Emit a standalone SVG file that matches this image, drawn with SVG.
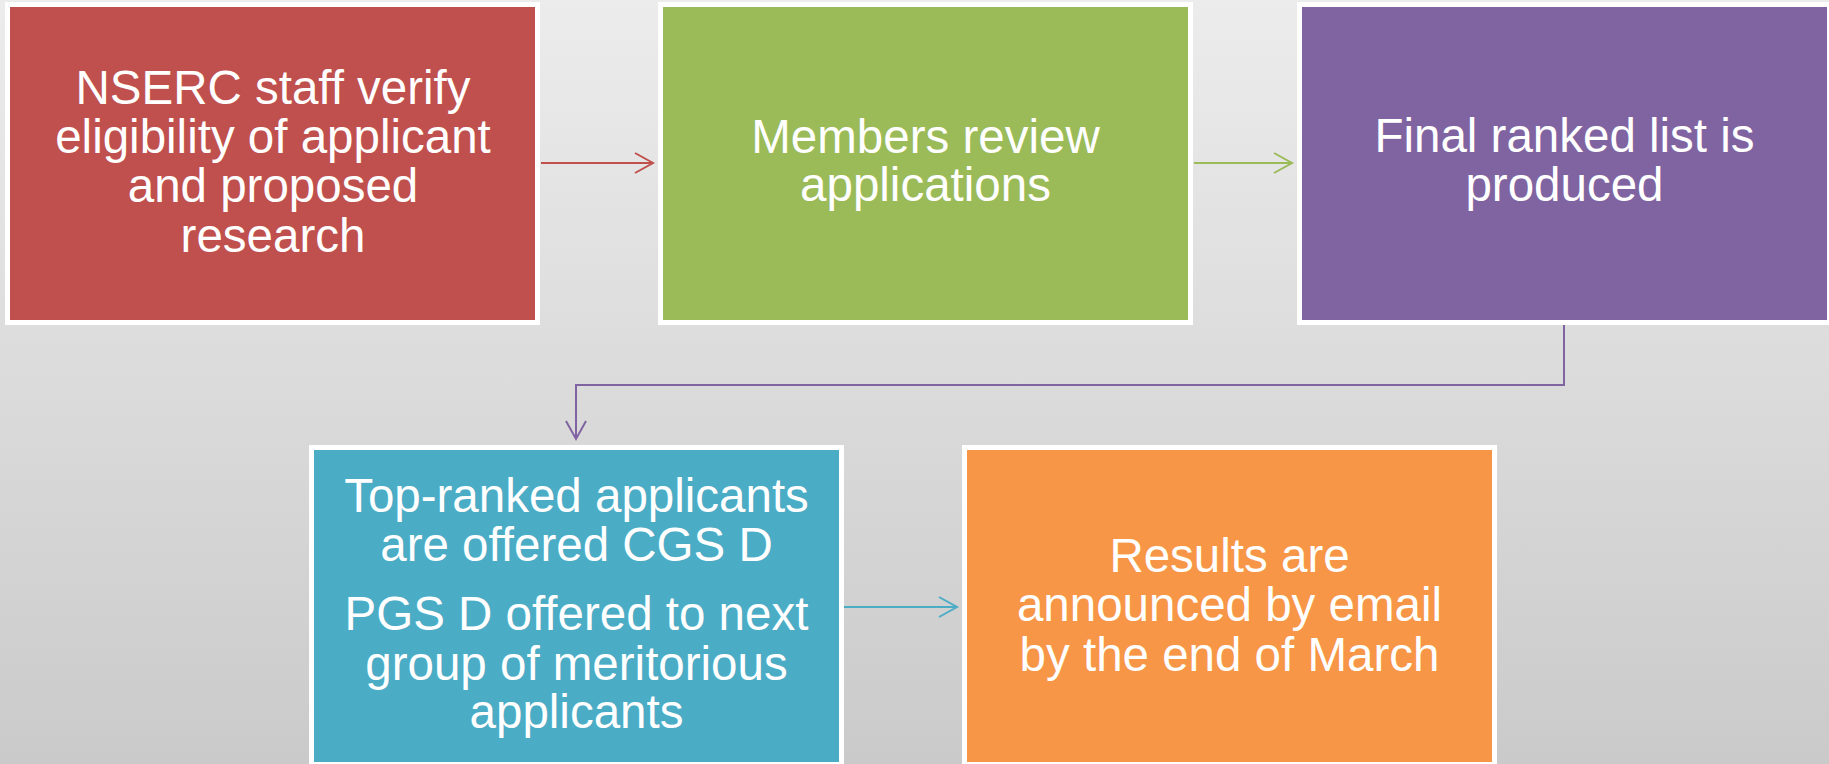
<svg xmlns="http://www.w3.org/2000/svg" width="1829" height="764" viewBox="0 0 1829 764">
  <defs>
    <linearGradient id="bg" x1="0" y1="0" x2="0" y2="1">
      <stop offset="0" stop-color="#ECECEC"/>
      <stop offset="1" stop-color="#CACACA"/>
    </linearGradient>
    <marker id="mRed" markerUnits="userSpaceOnUse" markerWidth="24" markerHeight="24" refX="20" refY="11" orient="auto">
      <path d="M2,1 L20,11 L2,21" class="chev" stroke="#C0504D"/>
    </marker>
    <marker id="mGreen" markerUnits="userSpaceOnUse" markerWidth="24" markerHeight="24" refX="20" refY="11" orient="auto">
      <path d="M2,1 L20,11 L2,21" class="chev" stroke="#9BBB59"/>
    </marker>
    <marker id="mPurple" markerUnits="userSpaceOnUse" markerWidth="24" markerHeight="24" refX="20" refY="11" orient="auto">
      <path d="M2,1 L20,11 L2,21" class="chev" stroke="#8064A2"/>
    </marker>
    <marker id="mBlue" markerUnits="userSpaceOnUse" markerWidth="24" markerHeight="24" refX="20" refY="11" orient="auto">
      <path d="M2,1 L20,11 L2,21" class="chev" stroke="#4BACC6"/>
    </marker>
  </defs>
  <style>
    .box { stroke: #FFFFFF; stroke-width: 5; }
    .lbl { font-family: "Liberation Sans", Arial, sans-serif; font-size: 47.5px; fill: #FFFFFF; text-anchor: middle; }
    .conn { fill: none; stroke-width: 2; }
    .chev { fill: none; stroke-width: 2; }
  </style>
  <rect x="0" y="0" width="1829" height="764" fill="url(#bg)"/>

  <g id="connectors">
    <line class="conn" x1="541" y1="163" x2="653" y2="163" stroke="#C0504D" marker-end="url(#mRed)"/>
    <line class="conn" x1="1194" y1="163" x2="1292" y2="163" stroke="#9BBB59" marker-end="url(#mGreen)"/>
    <polyline class="conn" points="1564,325 1564,385 576,385 576,439" stroke="#8064A2" marker-end="url(#mPurple)"/>
    <line class="conn" x1="844" y1="607" x2="957" y2="607" stroke="#4BACC6" marker-end="url(#mBlue)"/>
  </g>

  <g id="node-verify">
    <rect class="box" x="7.5" y="4.5" width="530" height="318" fill="#C0504D"/>
    <text class="lbl" x="273" y="104">NSERC staff verify</text>
    <text class="lbl" x="273" y="153">eligibility of applicant</text>
    <text class="lbl" x="273" y="202">and proposed</text>
    <text class="lbl" x="273" y="252">research</text>
  </g>

  <g id="node-review">
    <rect class="box" x="660.5" y="4.5" width="530" height="318" fill="#9BBB59"/>
    <text class="lbl" x="925.5" y="153">Members review</text>
    <text class="lbl" x="925.5" y="201">applications</text>
  </g>

  <g id="node-ranked">
    <rect class="box" x="1299.5" y="4.5" width="530" height="318" fill="#8064A2"/>
    <text class="lbl" x="1564.5" y="152">Final ranked list is</text>
    <text class="lbl" x="1564.5" y="201">produced</text>
  </g>

  <g id="node-offered">
    <rect class="box" x="311.5" y="447.5" width="530" height="317" fill="#4BACC6"/>
    <text class="lbl" x="576.5" y="512">Top-ranked applicants</text>
    <text class="lbl" x="576.5" y="561">are offered CGS D</text>
    <text class="lbl" x="576.5" y="630">PGS D offered to next</text>
    <text class="lbl" x="576.5" y="680">group of meritorious</text>
    <text class="lbl" x="576.5" y="728">applicants</text>
  </g>

  <g id="node-results">
    <rect class="box" x="964.5" y="447.5" width="530" height="317" fill="#F79646"/>
    <text class="lbl" x="1229.5" y="572">Results are</text>
    <text class="lbl" x="1229.5" y="621">announced by email</text>
    <text class="lbl" x="1229.5" y="671">by the end of March</text>
  </g>
</svg>
